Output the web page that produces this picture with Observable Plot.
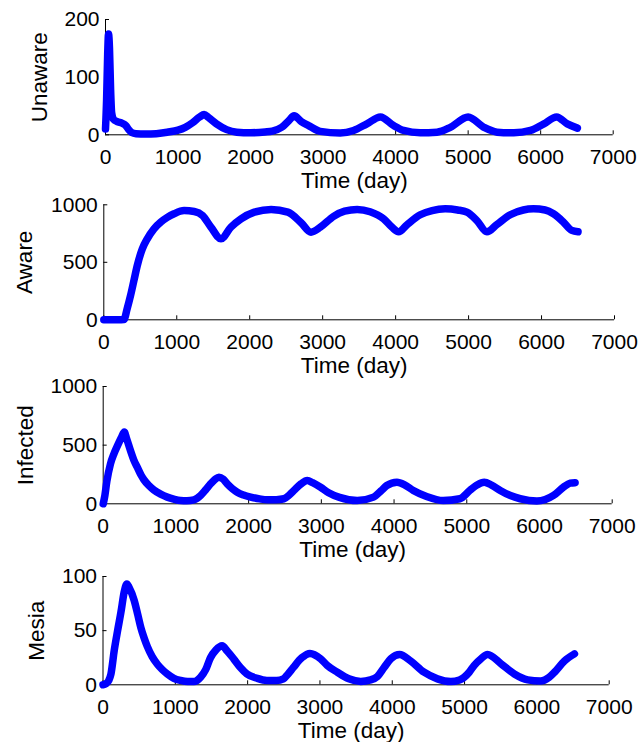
<!DOCTYPE html>
<html><head><meta charset="utf-8">
<script src="https://cdn.jsdelivr.net/npm/d3@7"></script>
<script src="https://cdn.jsdelivr.net/npm/@observablehq/plot@0.6"></script>
<style>
body{margin:0;background:#fff;}
#chart{width:639px;height:742px;position:relative;overflow:hidden;background:#fff;}
#chart svg{position:absolute;left:0;top:0;}
</style></head><body><div id="chart"></div>
<script>
const dayTicks = [0, 1000, 2000, 3000, 4000, 5000, 6000, 7000];
const xLabel = "Time (day)";

const unawareTicks = [0, 100, 200];
const awareTicks = [0, 500, 1000];
const infectedTicks = [0, 500, 1000];
const mesiaTicks = [0, 50, 100];

const unawareDay = [0,15,30,42,55,70,85,110,160,230,280,320,360,420,550,700,850,1000,1100,1200,1300,1360,1420,1530,1670,1810,2000,2200,2300,2430,2530,2600,2700,2800,2960,3236,3420,3604,3790,3972,4110,4340,4570,4754,5000,5216,5400,5630,5860,6044,6220,6367,6506];
const unawareValue = [10,60,140,175,150,80,38,27,23,20,16,9,4,2,1.5,2,4.5,8,13,21,31,35,30,19,9,4.6,3.5,5,6.5,13,25,33,23,16,6,3,7.5,19,31,16,7.5,3.5,4.6,13,31,13,4.6,3.5,7.5,19,31,19,11.6];

const awareDay = [0,100,200,275,320,367,413,459,528,596,688,780,870,963,1100,1240,1353,1468,1606,1743,1881,2064,2294,2523,2706,2840,2968,3150,3300,3473,3650,3836,3950,4041,4155,4338,4500,4680,4850,4977,5114,5251,5388,5571,5750,5890,6050,6164,6301,6415,6500];
const awareValue = [0,0,0,2,96,212,342,472,617,704,791,849,890,922,950,942,907,806,705,806,878,936,960,936,843,762,805,900,945,960,940,878,805,765,826,913,950,965,955,936,863,765,829,913,955,965,955,922,849,777,765];

const infectedDay = [0,20,50,100,150,200,250,290,320,376,420,468,520,560,630,697,790,881,970,1064,1150,1248,1339,1410,1477,1540,1592,1650,1706,1775,1844,1930,2028,2150,2257,2380,2486,2560,2624,2720,2807,2880,2990,3100,3250,3494,3718,3820,3900,4040,4150,4265,4447,4676,4905,5042,5140,5240,5340,5460,5600,5735,5964,6193,6330,6422,6490];
const infectedValue = [0,60,190,340,430,500,565,612,560,452,375,312,245,205,155,118,82,57,40,28,26,34,71,120,170,210,227,210,170,130,99,75,57,42,34,35,43,75,114,170,199,180,141,95,55,28,57,110,156,184,160,114,63,28,43,114,160,184,160,114,70,43,23,71,142,176,180];

const mesiaDay = [0,40,80,110,156,202,248,294,330,360,431,480,523,570,615,680,752,820,890,980,1073,1170,1257,1300,1349,1420,1486,1560,1647,1720,1807,1900,1991,2130,2266,2400,2495,2560,2633,2750,2862,3010,3100,3241,3400,3564,3700,3795,3887,3980,4103,4255,4440,4625,4810,4930,4995,5064,5134,5226,5318,5503,5688,5873,6050,6170,6243,6381,6520];
const mesiaValue = [0,1,4,10,32,50,67,86,93,90,78,65,53,43,35,26,19,14,10,6,4,3,3,4,7,14,25,32,36,31,24,16,10,6,4,4,5.5,10,16,25,29,24,18,11.6,5.5,3,4.5,7.7,16,24,28,22,11.6,5.5,3,4.5,7,11.6,18,24,28,19.5,10,4.6,3.5,7,11.6,22,28.6];

const W = 639, H = 742;
const panels = [
  {label: "Unaware", days: unawareDay, values: unawareValue, domain: [0, 200], ticks: unawareTicks,
   top: 19, bottom: 134.3, left: 105, right: 612.7, ylabDx: -66},
  {label: "Aware", days: awareDay, values: awareValue, domain: [0, 1000], ticks: awareTicks,
   top: 204.3, bottom: 319.3, left: 103.3, right: 614, ylabDx: -78.6},
  {label: "Infected", days: infectedDay, values: infectedValue, domain: [0, 1000], ticks: infectedTicks,
   top: 386, bottom: 503.3, left: 102.7, right: 611.7, ylabDx: -77.7},
  {label: "Mesia", days: mesiaDay, values: mesiaValue, domain: [0, 100], ticks: mesiaTicks,
   top: 576, bottom: 684.3, left: 102.5, right: 608.7, ylabDx: -66}
];

const font = "'Liberation Sans', Arial, Helvetica, sans-serif";
const tickFont = 21, labelFont = 22.5;
const chart = document.getElementById("chart");

for (const p of panels) {
  const plotW = p.right - p.left, plotH = p.bottom - p.top;
  const rows = p.days.map((d, i) => ({day: d, value: p.values[i]}));
  const svg = Plot.plot({
    width: W, height: H,
    marginTop: p.top, marginBottom: H - p.bottom, marginLeft: p.left, marginRight: W - p.right,
    style: {fontFamily: font, fontSize: tickFont + "px", color: "#000", background: "transparent", overflow: "visible"},
    x: {domain: [0, 7000]},
    y: {domain: p.domain},
    marks: [
      Plot.ruleY([p.domain[0]], {stroke: "#000", strokeWidth: 1}),
      Plot.ruleX([0], {stroke: "#000", strokeWidth: 1}),
      Plot.tickX(dayTicks, {x: d => d, insetTop: plotH - 4, stroke: "#000"}),
      Plot.tickY(p.ticks, {y: d => d, insetRight: plotW - 4, stroke: "#000"}),
      Plot.axisX({ticks: dayTicks, tickSize: 0, tickPadding: 14, tickFormat: d => String(d), label: null, fontSize: tickFont}),
      Plot.axisY({ticks: p.ticks, tickSize: 0, tickPadding: 6, tickFormat: d => String(d), label: null, fontSize: tickFont}),
      Plot.text([xLabel], {frameAnchor: "bottom", dy: 45.5, dx: -5, textAnchor: "middle", lineAnchor: "middle", fontSize: labelFont, fill: "#000"}),
      Plot.text([p.label], {frameAnchor: "left", rotate: -90, dx: p.ylabDx, textAnchor: "middle", lineAnchor: "middle", fontSize: labelFont, fill: "#000"}),
      Plot.line(rows, {x: "day", y: "value", stroke: "#0000ff", strokeWidth: 7.5, curve: "monotone-x", strokeLinecap: "round", strokeLinejoin: "round"})
    ]
  });
  chart.appendChild(svg);
}
</script></body></html>
